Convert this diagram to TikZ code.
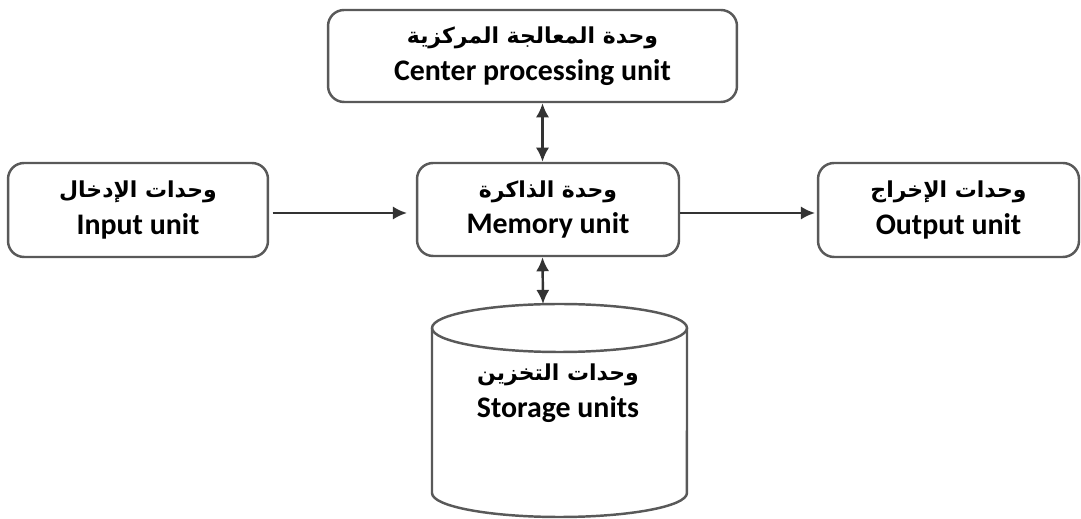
\documentclass[tikz,border=0pt]{standalone}
\usepackage{fontspec}
\setmainfont{Carlito}
\newfontfamily\arabicfont[Script=Arabic]{DejaVu Sans}
\TeXXeTstate=1
\usetikzlibrary{arrows.meta, positioning}
\tikzset{>={Latex[length=8pt, width=7.5pt]}}
\newcommand{\artext}[1]{{\arabicfont\bfseries\fontsize{12.5}{14}\selectfont\beginR #1\endR}}

\begin{document}
\begin{tikzpicture}[x=0.02cm, y=-0.02cm,
  unitbox/.style={draw=gray!70!black, line width=1.4pt, rounded corners=0.32cm,
    fill=white, align=center, inner sep=0pt,
    font=\bfseries\fontsize{17}{20}\selectfont},
  link/.style={line width=1.4pt, black!80},
  storeline/.style={draw=gray!70!black, line width=1.4pt}]

\useasboundingbox (0,0) rectangle (1081,519);

% Units
\node[unitbox, minimum width=8.18cm, minimum height=1.84cm] (cpu) at (532.5,56)
  {\artext{وحدة المعالجة المركزية}\\[1pt] Center processing unit};
\node[unitbox, minimum width=5.2cm, minimum height=1.88cm] (input) at (138,210)
  {\artext{وحدات الإدخال}\\[1pt] Input unit};
\node[unitbox, minimum width=5.24cm, minimum height=1.86cm] (mem) at (548,209.5)
  {\artext{وحدة الذاكرة}\\[1pt] Memory unit};
\node[unitbox, minimum width=5.22cm, minimum height=1.88cm] (output) at (948.5,210)
  {\artext{وحدات الإخراج}\\[1pt] Output unit};

% Storage cylinder
\draw[storeline] (432,328) -- (432,493) arc[start angle=180, end angle=360, x radius=2.55cm, y radius=0.48cm] -- (687,328);
\draw[storeline] (559.5,328) ellipse[x radius=2.55cm, y radius=0.48cm];
\node[align=center, font=\bfseries\fontsize{17}{20}\selectfont] (store) at (558,393)
  {\artext{وحدات التخزين}\\[1pt] Storage units};
\coordinate (storetop) at (543,304);

% Links
\coordinate (vx) at (542.5,0);
\coordinate (hy) at (0,213);
\draw[link, ->, shorten <=2pt, shorten >=5pt] (input.east |- hy) -- (mem.west |- hy);
\draw[link, ->, shorten >=1pt] (mem.east |- hy) -- (output.west |- hy);
\draw[link, <->] (cpu.south -| vx) -- (mem.north -| vx);
\draw[link, <->] (mem.south -| vx) -- (storetop);

\end{tikzpicture}
\end{document}
